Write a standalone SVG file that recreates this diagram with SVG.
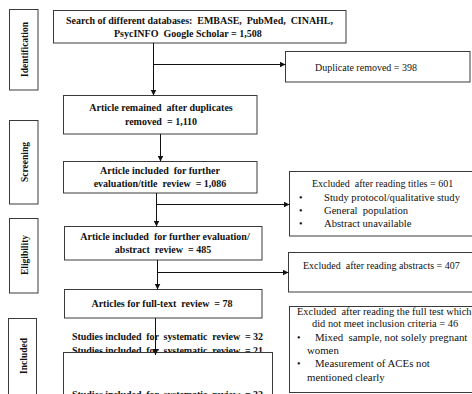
<svg xmlns="http://www.w3.org/2000/svg" width="472" height="394" viewBox="0 0 472 394" font-family="'Liberation Serif', 'Times New Roman', serif">
<defs>
<marker id="ah" markerUnits="userSpaceOnUse" markerWidth="6" markerHeight="6" refX="6" refY="3" orient="auto">
<path d="M0,0 L6,3 L0,6 z" fill="#111"/>
</marker>
<style>
.box{fill:#fff;stroke:#3a3a3a;stroke-width:1}
text{font-family:'Liberation Serif','Times New Roman',serif}
.b{font-weight:bold;font-size:10px;fill:#111}
.r{font-size:10px;fill:#111}
.side{font-weight:bold;font-size:9.5px;fill:#111;text-anchor:middle}
.c{stroke:#111;stroke-width:1;fill:none}
.m{text-anchor:middle}
</style>
</defs>
<rect width="472" height="394" fill="#fff"/>

<g id="side-identification">
<rect class="box" x="9.5" y="9.5" width="28.5" height="80.5"/>
<text class="side" transform="translate(27.5,49.5) rotate(-90)">Identification</text>
</g>
<g id="side-screening">
<rect class="box" x="9.5" y="120.5" width="28.5" height="83.5"/>
<text class="side" transform="translate(27.5,162) rotate(-90)">Screening</text>
</g>
<g id="side-eligibility">
<rect class="box" x="9.5" y="218.5" width="28.5" height="74.5"/>
<text class="side" transform="translate(27.5,255) rotate(-90)">Eligibility</text>
</g>
<g id="side-included">
<rect class="box" x="8.5" y="318.5" width="28" height="90"/>
<text class="side" transform="translate(26.5,356) rotate(-90)">Included</text>
</g>

<g id="search">
<rect class="box" x="53.5" y="10.5" width="292.5" height="32.5"/>
<text class="b" x="66" y="24" textLength="267" lengthAdjust="spacing" xml:space="preserve">Search of different databases:  EMBASE,  PubMed,  CINAHL,</text>
<text class="b" x="114" y="37" xml:space="preserve">PsycINFO  Google Scholar = 1,508</text>
</g>

<g id="duplicates">
<rect class="box" x="285.5" y="51.5" width="184.5" height="30.5"/>
<text class="r" x="315" y="71">Duplicate removed = 398</text>
</g>

<g id="remained">
<rect class="box" x="63.5" y="95.5" width="193.5" height="38.5"/>
<text class="b m" x="161" y="111" xml:space="preserve">Article remained  after duplicates</text>
<text class="b m" x="161" y="125" xml:space="preserve">removed  = 1,110</text>
</g>

<g id="title-review">
<rect class="box" x="63.5" y="161.5" width="193.5" height="31.5"/>
<text class="b m" x="160" y="174" xml:space="preserve">Article included  for further</text>
<text class="b m" x="160" y="187" xml:space="preserve">evaluation/title  review  = 1,086</text>
</g>

<g id="excluded-titles">
<rect class="box" x="289.5" y="171.5" width="186" height="64.5"/>
<text class="r" x="312" y="187" xml:space="preserve">Excluded  after reading titles = 601</text>
<text class="r" x="299" y="200.5">•</text>
<text class="r" x="324" y="200.5" style="font-size:10.6px">Study protocol/qualitative study</text>
<text class="r" x="299" y="214">•</text>
<text class="r" x="324" y="214" style="font-size:10.6px" xml:space="preserve">General  population</text>
<text class="r" x="299" y="227">•</text>
<text class="r" x="324" y="227" style="font-size:10.6px">Abstract unavailable</text>
</g>

<g id="abstract-review">
<rect class="box" x="64.5" y="226.5" width="197.5" height="33.5"/>
<text class="b m" x="165" y="240" xml:space="preserve">Article included  for further evaluation/</text>
<text class="b m" x="163" y="253" xml:space="preserve">abstract  review  = 485</text>
</g>

<g id="excluded-abstracts">
<rect class="box" x="288.5" y="252.5" width="187" height="39.5"/>
<text class="r" x="303" y="269" xml:space="preserve">Excluded  after reading abstracts = 407</text>
</g>

<g id="fulltext-review">
<rect class="box" x="64.5" y="289.5" width="197.5" height="28.5"/>
<text class="b m" x="162" y="307" xml:space="preserve">Articles for full-text  review  = 78</text>
</g>

<g id="excluded-fulltext">
<rect class="box" x="289.5" y="306.5" width="186" height="86"/>
<text class="r" x="297" y="315" style="font-size:10.4px" xml:space="preserve">Excluded  after reading the full test which</text>
<text class="r" x="312" y="327" style="font-size:10.4px">did not meet inclusion criteria = 46</text>
<text class="r" x="297" y="340.5">•</text>
<text class="r" x="315" y="340.5" style="font-size:10.8px" xml:space="preserve">Mixed  sample, not solely pregnant</text>
<text class="r" x="307" y="353.5" style="font-size:10.8px">women</text>
<text class="r" x="297" y="367">•</text>
<text class="r" x="315" y="367" style="font-size:10.8px">Measurement of ACEs not</text>
<text class="r" x="307" y="380.5" style="font-size:10.8px">mentioned clearly</text>
</g>

<g id="included-counts">
<text class="b" x="72" y="339.5" textLength="191" lengthAdjust="spacing" xml:space="preserve">Studies included  for  systematic  review  = 32</text>
<text class="b" x="72" y="354" textLength="191" lengthAdjust="spacing" xml:space="preserve">Studies included  for  systematic  review  = 21</text>
</g>

<g id="included-final">
<rect class="box" x="63.5" y="352.5" width="209" height="60"/>
<text class="b" x="72" y="397.5" textLength="191" lengthAdjust="spacing" xml:space="preserve">Studies included  for  systematic  review  = 32</text>
</g>

<g id="connectors">
<line class="c" x1="153.5" y1="43" x2="153.5" y2="95.5" marker-end="url(#ah)"/>
<line class="c" x1="153.5" y1="64.5" x2="285.5" y2="64.5" marker-end="url(#ah)"/>
<line class="c" x1="160.5" y1="134" x2="160.5" y2="161.5" marker-end="url(#ah)"/>
<line class="c" x1="156.5" y1="193" x2="156.5" y2="226.5" marker-end="url(#ah)"/>
<line class="c" x1="156.5" y1="204.5" x2="289.5" y2="204.5" marker-end="url(#ah)"/>
<line class="c" x1="157.5" y1="260" x2="157.5" y2="289.5" marker-end="url(#ah)"/>
<line class="c" x1="157.5" y1="272.5" x2="288.5" y2="272.5" marker-end="url(#ah)"/>
<line class="c" x1="155.5" y1="318" x2="155.5" y2="355" marker-end="url(#ah)"/>
</g>
</svg>
